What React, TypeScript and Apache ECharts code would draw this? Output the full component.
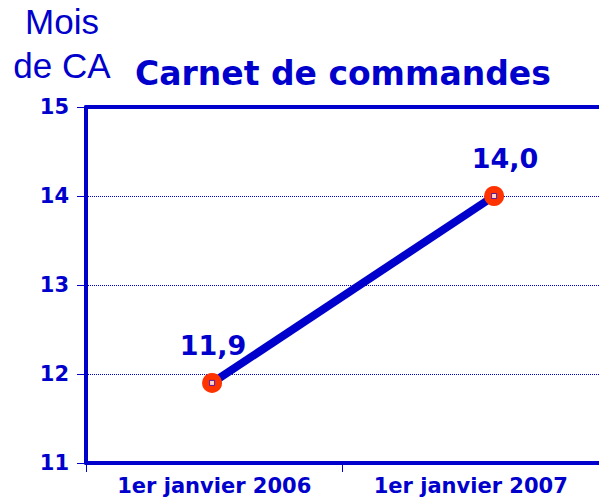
import React, { useEffect, useRef } from "react";
import * as echarts from "echarts";

const categories = ["1er janvier 2006", "1er janvier 2007"];
const values = [11.9, 14.0];
const yTicks = [11, 12, 13, 14, 15];
const labelOffsets = [[1, 0], [11, 0]];
const unitTitle = ["Mois", "de CA"];
const chartTitle = "Carnet de commandes";

const BLUE = "#0000CC";
const RED = "#FF3300";

export default function App() {
  const ref = useRef<HTMLDivElement>(null);
  useEffect(() => {
    if (!ref.current) return;
    const chart = echarts.init(ref.current, null, { renderer: "svg" });
    const pts = values.map((v, i) => [i, v]);
    chart.setOption({
      animation: false,
      backgroundColor: "#ffffff",
      grid: { left: 86, right: 0, top: 107, bottom: 38, containLabel: false },
      graphic: [
        {
          type: "text",
          x: 62,
          y: 21,
          style: {
            text: unitTitle[0],
            font: "35px 'Liberation Sans', Arial, sans-serif",
            fill: BLUE,
            align: "center",
            verticalAlign: "middle",
          },
        },
        {
          type: "text",
          x: 62,
          y: 65,
          style: {
            text: unitTitle[1],
            font: "35px 'Liberation Sans', Arial, sans-serif",
            fill: BLUE,
            align: "center",
            verticalAlign: "middle",
          },
        },
        {
          type: "text",
          x: 135,
          y: 73,
          style: {
            text: chartTitle,
            font: "bold 33px 'DejaVu Sans', sans-serif",
            fill: BLUE,
            align: "left",
            verticalAlign: "middle",
          },
        },
      ],
      xAxis: [
        {
          type: "category",
          data: categories,
          position: "bottom",
          boundaryGap: true,
          axisLine: { show: true, onZero: false, lineStyle: { color: BLUE, width: 4 } },
          axisTick: { show: true, length: 9, lineStyle: { color: BLUE, width: 1 } },
          axisLabel: {
            color: BLUE,
            fontFamily: "'DejaVu Sans', sans-serif",
            fontWeight: "bold",
            fontSize: 21,
            margin: 12,
          },
          splitLine: { show: false },
        },
        {
          type: "value",
          position: "top",
          min: -0.447,
          max: 1.372,
          axisLine: { show: true, onZero: false, lineStyle: { color: BLUE, width: 4 } },
          axisTick: { show: false },
          axisLabel: { show: false },
          splitLine: { show: false },
        },
      ],
      yAxis: {
        type: "value",
        position: "left",
        min: yTicks[0],
        max: yTicks[yTicks.length - 1],
        interval: 1,
        axisLine: { show: true, onZero: false, lineStyle: { color: BLUE, width: 4 } },
        axisTick: { show: true, length: 9, lineStyle: { color: BLUE, width: 1 } },
        axisLabel: {
          color: BLUE,
          fontFamily: "'DejaVu Sans', sans-serif",
          fontWeight: "bold",
          fontSize: 21,
          margin: 17,
        },
        splitLine: { show: true, lineStyle: { color: BLUE, width: 1, type: [1, 1] } },
      },
      series: [
        {
          type: "line",
          xAxisIndex: 1,
          data: pts.map((p, i) => ({
            value: p,
            label: { offset: labelOffsets[i] },
          })),
          lineStyle: { color: BLUE, width: 8 },
          symbol: "circle",
          symbolSize: 20,
          itemStyle: { color: RED, borderColor: RED, borderWidth: 0 },
          label: {
            show: true,
            position: "top",
            distance: 14,
            color: BLUE,
            fontFamily: "'DejaVu Sans', sans-serif",
            fontWeight: "bold",
            fontSize: 27,
            formatter: (p: any) => p.value[1].toFixed(1).replace(".", ","),
          },
          z: 3,
        },
        {
          type: "scatter",
          xAxisIndex: 1,
          data: pts,
          symbol: "rect",
          symbolSize: 5,
          itemStyle: { color: "#ffffff", borderColor: "#3300aa", borderWidth: 1 },
          z: 4,
        },
      ],
    });
    return () => chart.dispose();
  }, []);
  return (
    <div
      ref={ref}
      style={{ position: "absolute", left: 0, top: 0, width: 599, height: 501 }}
    />
  );
}
